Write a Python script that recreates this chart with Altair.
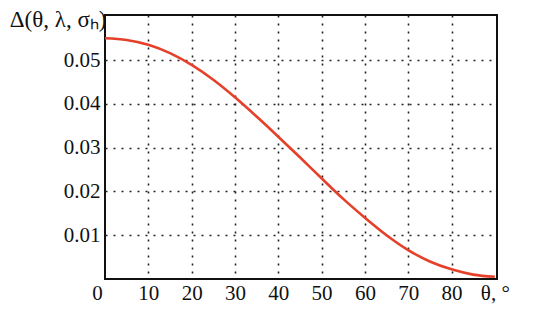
import altair as alt
import pandas as pd

theta = [0, 5, 10, 15, 20, 25, 30, 35, 40, 45, 50, 55, 60, 65, 70, 75, 80, 85, 90]
delta = [0.0550, 0.0546, 0.0535, 0.0516, 0.0489, 0.0455, 0.0415, 0.0371, 0.0325,
         0.0278, 0.0230, 0.0183, 0.0140, 0.0100, 0.0066, 0.0040, 0.0022, 0.0010, 0.0005]
x_ticks = [0, 10, 20, 30, 40, 50, 60, 70, 80, 90]
y_ticks = [0.01, 0.02, 0.03, 0.04, 0.05]

df = pd.DataFrame({"theta": theta, "delta": delta})

FONT = "Liberation Serif"

chart = alt.Chart(df).mark_line(
    color="#e5402a", strokeWidth=2.6, interpolate="monotone"
).encode(
    x=alt.X("theta:Q",
            scale=alt.Scale(domain=[0, 90.5], nice=False, zero=False),
            axis=alt.Axis(values=x_ticks, title=None, domain=False, ticks=False,
                          labelExpr="datum.value == 90 ? 'θ, °' : datum.label",
                          labelFont=FONT, labelFontSize=21, labelColor="#111",
                          labelPadding=3, labelFlush=False,
                          labelOffset={"condition": {"test": "datum.value == 0", "value": -8}, "value": 0},
                          grid=True, gridColor="#222", gridDash=[2, 6], gridWidth=1.6,
                          gridOpacity={"condition": {"test": "datum.value == 0 || datum.value == 90", "value": 0}, "value": 1})),
    y=alt.Y("delta:Q",
            scale=alt.Scale(domain=[0, 0.0603], nice=False, zero=True),
            axis=alt.Axis(values=y_ticks, format=".2f", domain=False, ticks=False,
                          labelFont=FONT, labelFontSize=21, labelColor="#111",
                          labelPadding=5,
                          grid=True, gridColor="#222", gridDash=[2, 6], gridWidth=1.6,
                          title="Δ(θ, λ, σₕ)", titleAngle=0, titleFont=FONT,
                          titleFontSize=23, titleFontWeight="normal", titleColor="#111",
                          titleAlign="right", titleBaseline="alphabetic",
                          titleX=1, titleY=11)),
).properties(
    width=392, height=264,
    background="white",
    autosize=alt.AutoSizeParams(type="none"),
    padding={"left": 97, "top": 7, "right": 45, "bottom": 28},
).configure_view(
    stroke="#111", strokeWidth=2
)

chart.save("out.html", embed_options={"renderer": "svg", "actions": False})
